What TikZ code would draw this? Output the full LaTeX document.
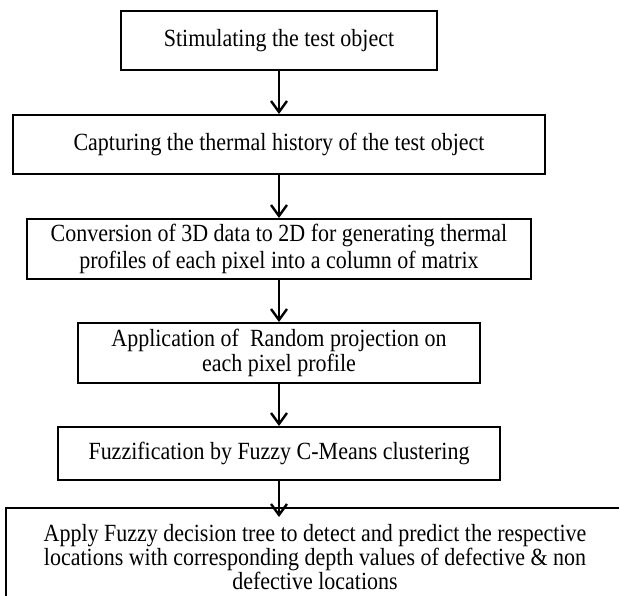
\documentclass[tikz,border=0pt]{standalone}
\usepackage{fontspec}
\setmainfont{Liberation Serif}[FakeStretch=0.89]
\usetikzlibrary{arrows.meta}
\tikzset{
  stepbox/.style={draw=black, line width=2pt, fill=white, inner sep=0pt, align=center, font={\fontsize{24.7}{24}\selectfont}},
  arr/.style={line width=2.4pt, -{Straight Barb[length=11pt,width=16pt,line width=2.4pt]}}
}
\begin{document}
\begin{tikzpicture}[x=1pt,y=-1pt]
\clip (0,0) rectangle (619,595);
\fill[white] (0,0) rectangle (619,595);
\node[stepbox, minimum width=316pt, minimum height=59pt] (b1) at (279,40.5) {Stimulating the test object};
\node[stepbox, minimum width=532pt, minimum height=59pt] (b2) at (279,144.5) {Capturing the thermal history of the test object};
\node[stepbox, minimum width=504pt, minimum height=60pt, font={\fontsize{24.7}{27}\selectfont}] (b3) at (279,249) {Conversion of 3D data to 2D for generating thermal\\profiles of each pixel into a column of matrix};
\node[stepbox, minimum width=402pt, minimum height=60pt, font={\fontsize{24.7}{25}\selectfont}] (b4) at (279,353) {Application of \ Random projection on\\each pixel profile};
\node[stepbox, minimum width=442pt, minimum height=53pt] (b5) at (279,453.5) {Fuzzification by Fuzzy C-Means clustering};
\node[stepbox, minimum width=618pt, minimum height=98pt, font={\fontsize{24.7}{22}\selectfont}] (b6) at (315,557) {Apply Fuzzy decision tree to detect and predict the respective\\locations with corresponding depth values of defective \& non\\defective locations};
\draw[arr] (b1.south) -- (b1.south |- b2.north);
\draw[arr] (b2.south) -- (b2.south |- b3.north);
\draw[arr] (b3.south) -- (b3.south |- b4.north);
\draw[arr] (b4.south) -- (b4.south |- b5.north);
\draw[arr, shorten >=-10pt] (b5.south) -- (b5.south |- b6.north);
\end{tikzpicture}
\end{document}
